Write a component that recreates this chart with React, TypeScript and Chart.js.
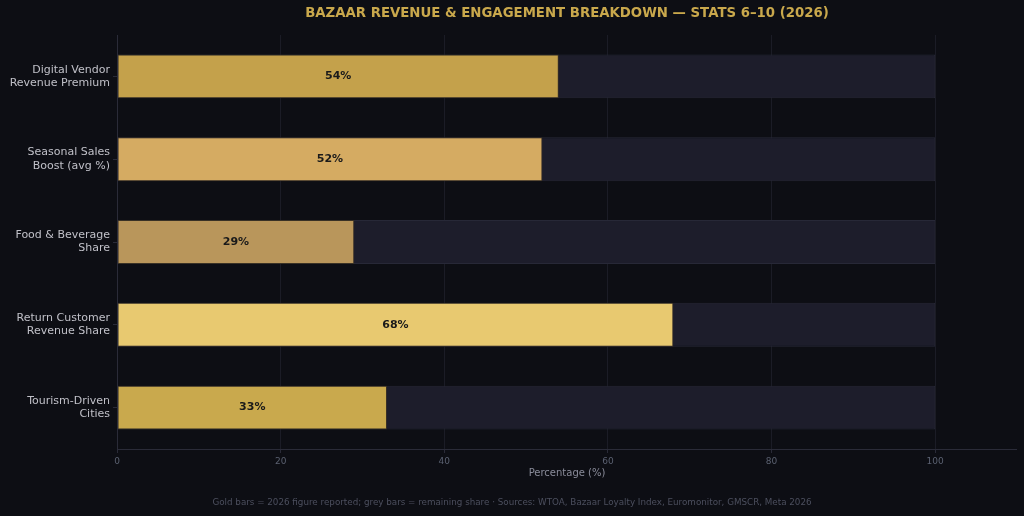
import React, { useEffect, useRef } from "react";
import { Chart, registerables } from "chart.js";

Chart.register(...registerables);

const categories: string[][] = [
  ["Digital Vendor", "Revenue Premium"],
  ["Seasonal Sales", "Boost (avg %)"],
  ["Food & Beverage", "Share"],
  ["Return Customer", "Revenue Share"],
  ["Tourism-Driven", "Cities"],
];
const values: number[] = [54, 52, 29, 68, 33];
const fullShare: number[] = [100, 100, 100, 100, 100];
const barColors: string[] = ["#c4a14b", "#d5ab62", "#b9965b", "#e8c970", "#c9a94d"];
const xTicks: number[] = [0, 20, 40, 60, 80, 100];

const TITLE = "BAZAAR REVENUE & ENGAGEMENT BREAKDOWN — STATS 6–10 (2026)";
const FOOTER =
  "Gold bars = 2026 figure reported; grey bars = remaining share · Sources: WTOA, Bazaar Loyalty Index, Euromonitor, GMSCR, Meta 2026";
const FONT = "'DejaVu Sans', sans-serif";

export default function App() {
  const ref = useRef<HTMLCanvasElement | null>(null);

  useEffect(() => {
    if (!ref.current) return;
    const decor = {
      id: "decor",
      beforeDraw(chart: any) {
        const ctx = chart.ctx;
        ctx.save();
        ctx.fillStyle = "#0d0e14";
        ctx.fillRect(0, 0, chart.width, chart.height);
        ctx.restore();
      },
      afterDatasetsDraw(chart: any) {
        const ctx = chart.ctx;
        const meta = chart.getDatasetMeta(0);
        ctx.save();
        ctx.font = `bold 11px ${FONT}`;
        ctx.fillStyle = "#1a1a1a";
        ctx.textAlign = "center";
        ctx.textBaseline = "middle";
        meta.data.forEach((bar: any, i: number) => {
          const x = (bar.x + bar.base) / 2;
          ctx.fillText(`${values[i]}%`, x, bar.y);
        });
        ctx.restore();
      },
      afterDraw(chart: any) {
        const ctx = chart.ctx;
        const area = chart.chartArea;
        ctx.save();
        ctx.strokeStyle = "#2a2b38";
        ctx.lineWidth = 1;
        ctx.beginPath();
        ctx.moveTo(area.left + 0.5, area.top);
        ctx.lineTo(area.left + 0.5, area.bottom);
        ctx.moveTo(area.left, area.bottom + 0.5);
        ctx.lineTo(area.right, area.bottom + 0.5);
        ctx.stroke();
        ctx.font = `bold 13.3px ${FONT}`;
        ctx.fillStyle = "#c9a84c";
        ctx.textAlign = "center";
        ctx.textBaseline = "middle";
        ctx.fillText(TITLE, (area.left + area.right) / 2, 13.5);
        ctx.font = `8.75px ${FONT}`;
        ctx.fillStyle = "#4c4f5e";
        ctx.fillText(FOOTER, 512, 503);
        ctx.restore();
      },
    };

    const chart = new Chart(ref.current, {
      type: "bar",
      data: {
        labels: categories,
        datasets: [
          {
            data: values,
            backgroundColor: barColors,
            borderColor: "rgba(60,50,35,0.9)",
            borderWidth: 1,
            borderSkipped: false,
            grouped: false,
            barPercentage: 0.53,
            categoryPercentage: 1,
          },
          {
            data: fullShare,
            backgroundColor: "#1d1d2b",
            borderColor: "#272837",
            borderWidth: 1,
            borderSkipped: false,
            grouped: false,
            barPercentage: 0.53,
            categoryPercentage: 1,
          },
        ],
      },
      plugins: [decor],
      options: {
        indexAxis: "y",
        responsive: false,
        animation: false,
        events: [],
        layout: { padding: { left: 0, right: 7, top: 35, bottom: 37 } },
        plugins: {
          legend: { display: false },
          title: { display: false },
          tooltip: { enabled: false },
        },
        scales: {
          x: {
            min: 0,
            max: 110,
            afterFit(scale: any) {
              scale.height = 30;
            },
            afterBuildTicks(scale: any) {
              scale.ticks = xTicks.map((v) => ({ value: v }));
            },
            border: { display: false },
            grid: {
              color: "#1b1c26",
              lineWidth: 1,
              drawTicks: true,
              tickLength: 4,
              tickColor: "#2a2b38",
            },
            ticks: {
              color: "#5a6070",
              padding: 3,
              maxRotation: 0,
              font: { family: FONT, size: 9 },
            },
            title: {
              display: true,
              text: "Percentage (%)",
              color: "#8a8c9a",
              padding: 0,
              font: { family: FONT, size: 10 },
            },
          },
          y: {
            afterFit(scale: any) {
              scale.width = 117;
            },
            border: { display: false },
            grid: {
              display: true,
              offset: false,
              drawOnChartArea: false,
              drawTicks: true,
              tickLength: 4,
              tickColor: "#2a2b38",
            },
            ticks: {
              color: "#c0c0c8",
              padding: 3,
              font: { family: FONT, size: 11, lineHeight: 1.2 },
            },
          },
        },
      },
    } as any);
    return () => chart.destroy();
  }, []);

  return (
    <div style={{ position: "fixed", left: 0, top: 0, width: 1024, height: 516, background: "#0d0e14" }}>
      <canvas ref={ref} width={1024} height={516} style={{ display: "block" }} />
    </div>
  );
}
